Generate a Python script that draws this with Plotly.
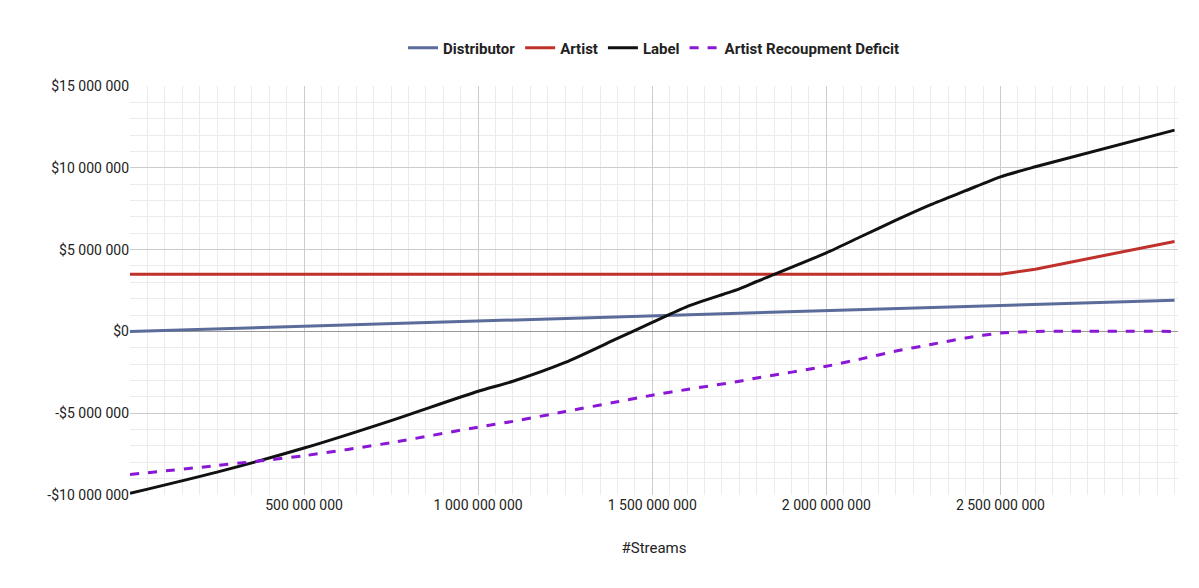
import plotly.graph_objects as go

streams = [0, 250e6, 500e6, 750e6, 1000e6, 1100e6, 1250e6, 1400e6, 1500e6, 1600e6, 1750e6, 1800e6, 2000e6, 2100e6, 2200e6, 2300e6, 2400e6, 2500e6, 2600e6, 3000e6]
distributor = [0, 0.16e6, 0.32e6, 0.48e6, 0.63e6, 0.70e6, 0.79e6, 0.89e6, 0.95e6, 1.01e6, 1.11e6, 1.14e6, 1.27e6, 1.33e6, 1.40e6, 1.46e6, 1.52e6, 1.59e6, 1.65e6, 1.9e6]
artist = [3.5e6]*18 + [3.8e6, 5.5e6]
label = [-9.9e6, -8.6e6, -7.13e6, -5.45e6, -3.66e6, -3.05e6, -1.9e6, -0.43e6, 0.55e6, 1.52e6, 2.6e6, 3.05e6, 4.8e6, 5.8e6, 6.8e6, 7.75e6, 8.6e6, 9.45e6, 10.06e6, 12.3e6]
deficit = [-8.75e6, -8.2e6, -7.6e6, -6.8e6, -5.85e6, -5.5e6, -4.9e6, -4.3e6, -3.9e6, -3.55e6, -3.05e6, -2.85e6, -2.13e6, -1.68e6, -1.2e6, -0.8e6, -0.4e6, -0.1e6, 0, 0]

y_ticks = [-10e6, -5e6, 0, 5e6, 10e6, 15e6]
y_labels = ["-$10 000 000", "-$5 000 000", "$0", "$5 000 000", "$10 000 000", "$15 000 000"]
x_ticks = [500e6, 1000e6, 1500e6, 2000e6, 2500e6]
x_labels = ["500 000 000", "1 000 000 000", "1 500 000 000", "2 000 000 000", "2 500 000 000"]

fig = go.Figure()
fig.add_scatter(x=streams, y=distributor, name="Distributor", mode="lines", line=dict(color="#5b6b9a", width=3))
fig.add_scatter(x=streams, y=artist, name="Artist", mode="lines", line=dict(color="#c0312b", width=3))
fig.add_scatter(x=streams, y=label, name="Label", mode="lines", line=dict(color="#111111", width=3, shape="spline", smoothing=0.6))
fig.add_scatter(x=streams, y=deficit, name="Artist Recoupment Deficit", mode="lines", line=dict(color="#8a17d6", width=3, dash="dash", shape="spline", smoothing=0.6))

fig.update_layout(
    width=1199, height=588, plot_bgcolor="white", paper_bgcolor="white",
    margin=dict(l=122, r=29, t=78, b=101, autoexpand=False),
    font=dict(family="Roboto", size=14, color="#222"),
    legend=dict(orientation="h", x=0.5, xanchor="center", y=1.093, yanchor="middle",
                font=dict(size=15, color="#222", family="Roboto", weight="bold")),
    xaxis=dict(range=[0, 3.01e9], tickvals=x_ticks, ticktext=x_labels, showline=False, automargin=False,
               gridcolor="#cccccc", gridwidth=1, zeroline=False,
               minor=dict(dtick=50e6, showgrid=True, gridcolor="#ebebeb", tick0=0),
               title=dict(text="#Streams", standoff=30, font=dict(size=15))),
    yaxis=dict(range=[-10e6, 15e6], tickvals=y_ticks, ticktext=y_labels, automargin=False,
               gridcolor="#cccccc", zeroline=True, zerolinecolor="#999999", zerolinewidth=1,
               minor=dict(dtick=1e6, showgrid=True, gridcolor="#ebebeb", tick0=0)),
)
fig.write_html("out.html")
